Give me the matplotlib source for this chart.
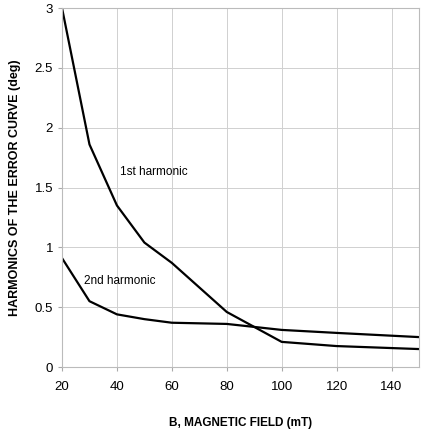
import matplotlib.pyplot as plt

# Дані
b_field = [20, 30, 40, 50, 60, 80, 100, 120, 150]
first_harm = [3.0, 1.86, 1.35, 1.04, 0.87, 0.46, 0.21, 0.175, 0.15]
second_harm = [0.91, 0.55, 0.44, 0.40, 0.37, 0.36, 0.31, 0.285, 0.25]

x_ticks = [20, 40, 60, 80, 100, 120, 140]
y_ticks = [0, 0.5, 1, 1.5, 2, 2.5, 3]
y_labels = ['0', '0.5', '1', '1.5', '2', '2.5', '3']

plt.rcParams['font.family'] = ['Liberation Sans', 'DejaVu Sans']

fig = plt.figure(figsize=(4.28, 4.29), dpi=100)
ax = fig.add_axes([0.1449, 0.1445, 0.834, 0.8368])

ax.plot(b_field, first_harm, color='black', linewidth=1.6)
ax.plot(b_field, second_harm, color='black', linewidth=1.6)

ax.text(41.2, 1.63, '1st harmonic', fontsize=8.5, va='center')
ax.text(28, 0.72, '2nd harmonic', fontsize=8.5, va='center')

ax.set_xlim(20, 150)
ax.set_ylim(0, 3)
ax.set_xticks(x_ticks)
ax.set_yticks(y_ticks)
ax.set_yticklabels(y_labels)
ax.grid(True, color='#d0d0d0', linewidth=0.7)
ax.set_axisbelow(True)
for s in ax.spines.values():
    s.set_color('#bbbbbb')
    s.set_linewidth(0.8)
ax.tick_params(axis='both', colors='#aaaaaa', labelcolor='black', labelsize=9.5, length=3)
ax.tick_params(axis='x', pad=7)

ax.set_xlabel('B, MAGNETIC FIELD (mT)', fontsize=8.5, fontweight='bold', labelpad=17)
ax.set_ylabel('HARMONICS OF THE ERROR CURVE (deg)', fontsize=9, fontweight='bold', labelpad=10)

fig.savefig('out.png', dpi=100)
